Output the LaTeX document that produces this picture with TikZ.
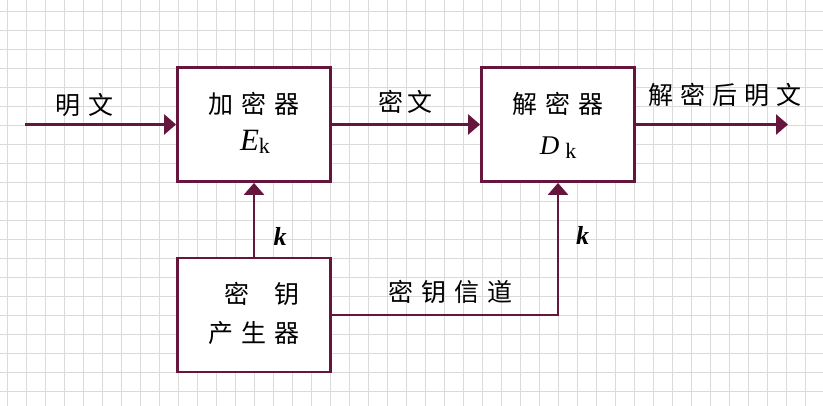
\documentclass[tikz,border=0pt]{standalone}
\usepackage{fontspec}
\setmainfont{Liberation Serif}
\newfontfamily\cjk{Noto Sans CJK SC}
\usetikzlibrary{arrows.meta}
\definecolor{wine}{RGB}{102,22,60}
\definecolor{gridgray}{RGB}{218,218,218}
% spacing between Chinese characters
\newcommand\zg{\kern8pt}
\begin{document}
\begin{tikzpicture}[x=1pt,y=-1pt,
  block/.style={draw=wine, line width=2.9pt, fill=white,
    minimum width=153pt, minimum height=114pt, inner sep=0pt},
  flow/.style={draw=wine, line width=2.9pt,
    -{Triangle[length=12pt,width=20pt]}},
  zh/.style={font=\cjk\fontsize{25}{29}\selectfont, inner sep=0pt},
  keylbl/.style={font=\fontsize{26}{28}\selectfont\bfseries\itshape, inner sep=0pt}]
\useasboundingbox (0,0) rectangle (823,406);
\fill[white] (0,0) rectangle (823,406);
% background grid
\foreach \i in {0,...,42}
  \draw[gridgray, line width=1pt] (7.3+19*\i,0) -- (7.3+19*\i,406);
\foreach \j in {0,...,20}
  \draw[gridgray, line width=1pt] (0,11.3+19*\j) -- (823,11.3+19*\j);

% blocks
\node[block] (enc) at (254,124.5) {};
\node[block] (dec) at (558,124.5) {};
\node[block] (gen) at (254,315) {};

% block captions
\node[zh] (encname) at (254,104) {加\zg 密\zg 器};
\node[inner sep=0pt, anchor=base] (encsym) at (255,150.5)
  {\fontsize{31}{33}\selectfont\textit{E}\raisebox{-3.5pt}{\fontsize{22}{24}\selectfont k}};
\node[zh] (decname) at (558,104) {解\zg 密\zg 器};
\node[inner sep=0pt, anchor=base] (decsym) at (558,155)
  {\fontsize{27}{29}\selectfont\textit{D}\kern6pt\raisebox{-4pt}{\fontsize{22}{24}\selectfont k}};
\node[zh] (genname1) at (262,293.5) {密\kern25pt 钥};
\node[zh] (genname2) at (254,333) {产\zg 生\zg 器};

% free ends
\coordinate (src) at (25,124.5);
\coordinate (dst) at (788,124.5);

% connectors
\draw[flow] (src) -- (enc.west);
\draw[flow] (enc.east) -- (dec.west);
\draw[flow] (dec.east) -- (dst);
\draw[flow] (gen.north) -- (enc.south);
\draw[flow] (gen.east) -| (dec.south);

% connector labels
\node[zh] (plain) at (85,105) {明\zg 文};
\node[zh] (cipher) at (405.5,101.5) {密\kern4pt 文};
\node[zh] (output) at (725,95) {解\kern7pt 密\kern7pt 后\kern7pt 明\kern7pt 文};
\node[zh] (channel) at (450,292) {密\zg 钥\zg 信\zg 道};
\node[keylbl] (k1) at (280,236) {k};
\node[keylbl] (k2) at (582.5,235.5) {k};
\end{tikzpicture}
\end{document}
